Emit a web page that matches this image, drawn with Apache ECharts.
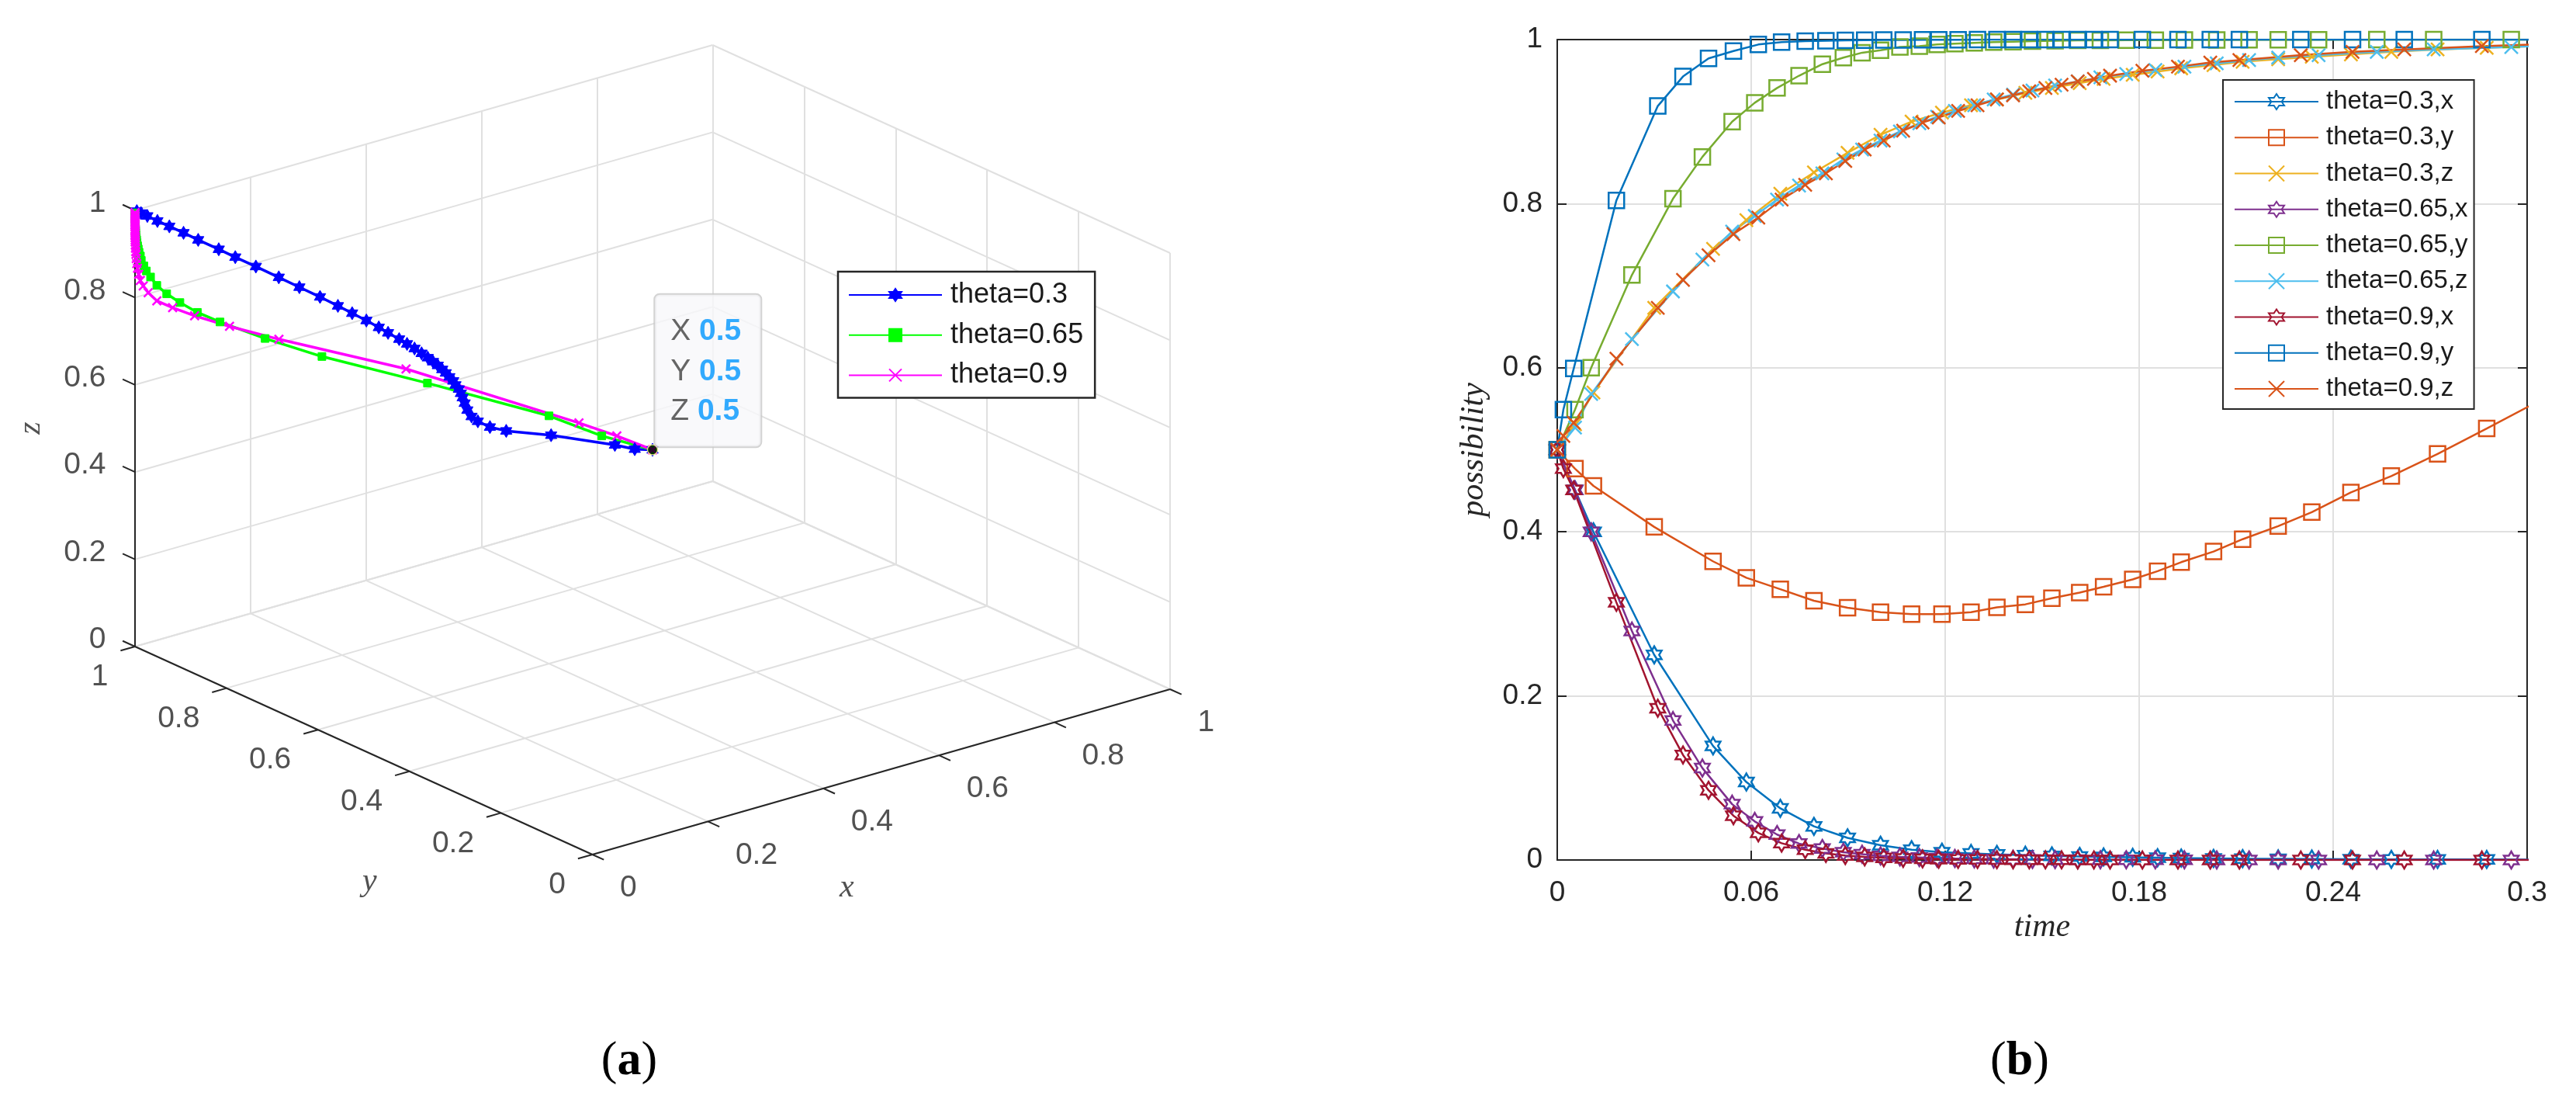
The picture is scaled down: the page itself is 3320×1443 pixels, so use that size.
<!DOCTYPE html>
<html>
<head>
<meta charset="utf-8">
<title>theta trajectories</title>
<script src="https://cdn.jsdelivr.net/npm/echarts@6/dist/echarts.min.js"></script>
<style>
  html, body { margin: 0; padding: 0; background: #fff; }
  #chart { width: 3320px; height: 1443px; }
</style>
</head>
<body>
<div id="chart"></div>
<script>
// ---- data ----
var ticks3d = [0, 0.2, 0.4, 0.6, 0.8, 1];
var timeTicks = { min: 0, max: 0.3, step: 0.06 };
var possTicks = { min: 0, max: 1, step: 0.2 };

var names3d = ["theta=0.3", "theta=0.65", "theta=0.9"];
var names2d = ["theta=0.3,x", "theta=0.3,y", "theta=0.3,z",
               "theta=0.65,x", "theta=0.65,y", "theta=0.65,z",
               "theta=0.9,x", "theta=0.9,y", "theta=0.9,z"];

// theta = 0.3 (solver steps, run past t = 0.3)
var t03 = [0, 0.0055, 0.0112, 0.0300, 0.0482, 0.0585, 0.0690, 0.0794, 0.0898, 0.1000,
           0.1096, 0.1190, 0.1280, 0.1360, 0.1448, 0.1530, 0.1616, 0.1690, 0.1780, 0.1857,
           0.1930, 0.2030, 0.2120, 0.2230, 0.2334, 0.2455, 0.2580, 0.2723, 0.2875, 0.3025,
           0.3170, 0.3320, 0.3470, 0.3620, 0.3780, 0.3940, 0.4120, 0.4320, 0.4540, 0.4800,
           0.5100, 0.5450, 0.5900];
var x03 = [0.500, 0.451, 0.400, 0.250, 0.139, 0.095, 0.063, 0.041, 0.027, 0.018,
           0.0126, 0.0095, 0.0080, 0.0068, 0.0058, 0.0050, 0.0043, 0.0037, 0.0032, 0.0028,
           0.0024, 0.0020, 0.0017, 0.0014, 0.0012, 0.0010, 0.0008, 0.0007, 0.0006, 0.0005,
           0.0004, 0.0003, 0.0003, 0.0002, 0.0002, 0.0001, 0.0001, 0.0001, 0.0001, 0,
           0, 0, 0];
var y03 = [0.500, 0.477, 0.456, 0.406, 0.364, 0.344, 0.330, 0.316, 0.3075, 0.302,
           0.2996, 0.2996, 0.302, 0.308, 0.3116, 0.319, 0.326, 0.333, 0.342, 0.352,
           0.363, 0.376, 0.391, 0.407, 0.424, 0.448, 0.468, 0.495, 0.526, 0.557,
           0.596, 0.641, 0.686, 0.736, 0.781, 0.817, 0.862, 0.894, 0.925, 0.951,
           0.973, 0.987, 0.996];
var z03 = [0.500, 0.531, 0.570, 0.673, 0.745, 0.780, 0.812, 0.838, 0.862, 0.884,
           0.900, 0.911, 0.920, 0.927, 0.935, 0.941, 0.947, 0.952, 0.957, 0.961,
           0.965, 0.969, 0.973, 0.976, 0.979, 0.982, 0.985, 0.988, 0.990, 0.992,
           0.994, 0.995, 0.996, 0.997, 0.997, 0.998, 0.998, 0.999, 0.999, 0.999,
           1.000, 1.000, 1.000];

// theta = 0.65
var t065 = [0, 0.0055, 0.0105, 0.0231, 0.0358, 0.0449, 0.0541, 0.0611, 0.0680, 0.0748,
            0.0820, 0.0885, 0.0943, 0.1000, 0.1060, 0.1120, 0.1175, 0.1230, 0.1290, 0.1350,
            0.1410, 0.1470, 0.1540, 0.1610, 0.1680, 0.1760, 0.1850, 0.1940, 0.2040, 0.2140,
            0.2230, 0.2355, 0.2535, 0.2711, 0.2951, 0.3200];
var x065 = [0.500, 0.451, 0.400, 0.279, 0.170, 0.112, 0.068, 0.047, 0.031, 0.020,
            0.014, 0.0095, 0.0070, 0.0050, 0.0038, 0.0030, 0.0023, 0.0018, 0.0014, 0.0011,
            0.0009, 0.0007, 0.0005, 0.0004, 0.0003, 0.0003, 0.0002, 0.0002, 0.0001, 0.0001,
            0.0001, 0, 0, 0, 0, 0];
var y065 = [0.500, 0.549, 0.600, 0.713, 0.806, 0.857, 0.900, 0.923, 0.941, 0.956,
            0.970, 0.978, 0.984, 0.987, 0.991, 0.992, 0.994, 0.995, 0.996, 0.997,
            0.9975, 0.998, 0.9985, 0.999, 0.999, 0.9992, 0.9994, 0.9995, 0.9996, 0.9997,
            0.9998, 0.9998, 0.9999, 0.9999, 0.9999, 1.000];
var z065 = [0.500, 0.527, 0.568, 0.635, 0.693, 0.732, 0.766, 0.785, 0.805, 0.822,
            0.837, 0.854, 0.866, 0.877, 0.888, 0.898, 0.906, 0.913, 0.920, 0.927,
            0.933, 0.938, 0.944, 0.949, 0.954, 0.958, 0.963, 0.967, 0.971, 0.975,
            0.978, 0.981, 0.985, 0.988, 0.991, 0.994];

// theta = 0.9
var t09 = [0, 0.0019, 0.0051, 0.0183, 0.0311, 0.0389, 0.0468, 0.0545, 0.0622, 0.0694,
           0.0767, 0.0831, 0.0891, 0.0951, 0.1010, 0.1070, 0.1130, 0.1180, 0.1240, 0.1300,
           0.1360, 0.1410, 0.1460, 0.1510, 0.1560, 0.1610, 0.1660, 0.1710, 0.1810, 0.1920,
           0.2020, 0.2110, 0.2300, 0.2460, 0.2620, 0.2860, 0.3100];
var x09 = [0.500, 0.477, 0.451, 0.314, 0.185, 0.128, 0.085, 0.054, 0.033, 0.0205,
           0.0126, 0.0080, 0.0055, 0.0038, 0.0027, 0.0019, 0.0014, 0.0010, 0.0008, 0.0006,
           0.0004, 0.0003, 0.0003, 0.0002, 0.0002, 0.0001, 0.0001, 0.0001, 0, 0,
           0, 0, 0, 0, 0, 0, 0];
var y09 = [0.500, 0.549, 0.599, 0.804, 0.919, 0.955, 0.977, 0.986, 0.994, 0.997,
           0.998, 0.9985, 0.999, 0.9993, 0.9995, 0.9996, 0.9997, 0.9998, 0.9998, 0.9999,
           0.9999, 0.9999, 0.9999, 0.9999, 0.9999, 0.9999, 0.9999, 0.9999, 0.9999, 0.9999,
           0.9999, 0.9999, 0.9999, 0.9999, 0.9999, 0.9999, 1.000];
var z09 = [0.500, 0.517, 0.533, 0.611, 0.673, 0.707, 0.737, 0.763, 0.783, 0.805,
           0.823, 0.837, 0.852, 0.866, 0.877, 0.889, 0.899, 0.905, 0.913, 0.920,
           0.927, 0.932, 0.937, 0.941, 0.945, 0.949, 0.952, 0.956, 0.962, 0.967,
           0.972, 0.975, 0.981, 0.985, 0.988, 0.992, 0.995];

// ---- styling ----
var SANS = "'Liberation Sans', Arial, sans-serif";
var SERIF = "'Liberation Serif', 'Times New Roman', serif";
var INK = "#262626";
var GRIDC = "#e0e0e0";

// screen placement of the 3D box (panel a): origin corner and unit vectors
var view = { o: [763.5, 1101], ex: [744.5, -213], ey: [-589.5, -268], ez: [0, -562] };

function proj(x, y, z) {
  return [
    view.o[0] + x * view.ex[0] + y * view.ey[0] + z * view.ez[0],
    view.o[1] + x * view.ex[1] + y * view.ey[1] + z * view.ez[1]
  ];
}

function hexagram() {
  var d = "";
  for (var i = 0; i < 12; i++) {
    var r = i % 2 ? 0.5774 : 1;
    var a = -Math.PI / 2 + i * Math.PI / 6;
    d += (i ? "L" : "M") + (r * Math.cos(a)).toFixed(4) + " " + (r * Math.sin(a)).toFixed(4);
  }
  return "path://" + d + "Z";
}
var HEX = hexagram();
var SQUARE = "path://M0 0H10V10H0Z";
var CROSS = "path://M0 0L10 10M10 0L0 10";

// ---- panel (a): 3D box drawn on a pixel-space grid ----
function seg(a, b) {
  return { coords: [proj(a[0], a[1], a[2]), proj(b[0], b[1], b[2])] };
}

var gridSegs = [];
ticks3d.forEach(function (s) {
  gridSegs.push(seg([s, 0, 0], [s, 1, 0]));
  gridSegs.push(seg([0, s, 0], [1, s, 0]));
  gridSegs.push(seg([s, 1, 0], [s, 1, 1]));
  gridSegs.push(seg([0, 1, s], [1, 1, s]));
  gridSegs.push(seg([1, s, 0], [1, s, 1]));
  gridSegs.push(seg([1, 0, s], [1, 1, s]));
});

var axisSegs = [seg([0, 1, 0], [0, 1, 1]), seg([0, 0, 0], [0, 1, 0]), seg([0, 0, 0], [1, 0, 0])];
ticks3d.forEach(function (s) {
  axisSegs.push(seg([0, 1, s], [0, 1.027, s]));
  axisSegs.push(seg([s, 0, 0], [s, -0.025, 0]));
  axisSegs.push(seg([0, s, 0], [-0.025, s, 0]));
});

function tickLabels(pointOf, pos, align) {
  return {
    type: "scatter", xAxisIndex: 2, yAxisIndex: 2, symbolSize: 1, silent: true, z: 4,
    itemStyle: { color: "rgba(0,0,0,0)" },
    label: {
      show: true, position: pos, align: align, verticalAlign: "middle",
      fontFamily: SANS, fontSize: 39, color: INK,
      formatter: function (p) { return String(p.value[2]); }
    },
    data: ticks3d.map(function (s) { var p = pointOf(s); return [p[0], p[1], s]; })
  };
}

function axisTitle(text, at, pos, rotate) {
  var p = proj(at[0], at[1], at[2]);
  return {
    type: "scatter", xAxisIndex: 2, yAxisIndex: 2, symbolSize: 1, silent: true, z: 4,
    itemStyle: { color: "rgba(0,0,0,0)" },
    label: {
      show: true, position: pos, align: "center", verticalAlign: "middle", rotate: rotate || 0,
      fontFamily: SERIF, fontStyle: "italic", fontSize: 42, color: INK,
      formatter: function () { return text; }
    },
    data: [[p[0], p[1]]]
  };
}

function path3d(xs, ys, zs) {
  return xs.map(function (x, i) { return proj(x, ys[i], zs[i]); });
}

function curve3d(name, xs, ys, zs, color, symbol, size, filled) {
  return {
    name: name, type: "line", xAxisIndex: 2, yAxisIndex: 2, z: 3, clip: false,
    data: path3d(xs, ys, zs),
    symbol: symbol, symbolSize: size, symbolKeepAspect: true, showSymbol: true,
    lineStyle: { color: color, width: 3.5 },
    itemStyle: filled ? { color: color, borderColor: color, borderWidth: 1 }
                      : { color: "rgba(0,0,0,0)", borderColor: color, borderWidth: 2.5 },
    emphasis: { disabled: true }
  };
}

var start = proj(x03[0], y03[0], z03[0]);

var series = [
  { type: "lines", coordinateSystem: "cartesian2d", xAxisIndex: 2, yAxisIndex: 2, z: 1, silent: true,
    lineStyle: { color: GRIDC, width: 2, opacity: 1 }, data: gridSegs },
  { type: "lines", coordinateSystem: "cartesian2d", xAxisIndex: 2, yAxisIndex: 2, z: 2, silent: true,
    lineStyle: { color: INK, width: 2, opacity: 1 }, data: axisSegs },
  tickLabels(function (s) { return proj(0, 1, s); }, [-37, -8], "right"),
  tickLabels(function (s) { return proj(s, 0, 0); }, [36, 44], "left"),
  tickLabels(function (s) { return proj(0, s, 0); }, [-34, 40], "right"),
  axisTitle("x", [0.5, 0, 0], [-44, 150]),
  axisTitle("y", [0, 0.5, 0], [8, 169]),
  axisTitle("z", [0, 1, 0.5], [-134, 0], 90),
  curve3d(names3d[0], x03, y03, z03, "#0000ff", HEX, 17, true),
  curve3d(names3d[1], x065, y065, z065, "#00ff00", "rect", 10, true),
  curve3d(names3d[2], x09, y09, z09, "#ff00ff", CROSS, 11, false),
  {
    type: "scatter", xAxisIndex: 2, yAxisIndex: 2, z: 6, silent: true,
    symbolSize: 13, itemStyle: { color: "#000", borderColor: "#ffff88", borderWidth: 1.5 },
    data: [[start[0], start[1]]],
    label: {
      show: true, position: [10.5, -192.5], align: "left", verticalAlign: "top",
      backgroundColor: "#f8f8fa", borderColor: "#c8c8c8", borderWidth: 2, borderRadius: 6,
      padding: [22, 25, 19, 20], fontFamily: SANS, fontSize: 39, lineHeight: 51.5,
      formatter: function () {
        return "{k|X} {v|" + x03[0] + "}\n{k|Y} {v|" + y03[0] + "}\n{k|Z} {v|" + z03[0] + "}";
      },
      rich: {
        k: { fontFamily: SANS, fontSize: 39, lineHeight: 51.5, color: "#404040" },
        v: { fontFamily: SANS, fontSize: 39, lineHeight: 51.5, color: "#0096ff", fontWeight: "bold" }
      }
    }
  }
];

// ---- panel (b): time series ----
function timeSeries(name, ts, vs, color, symbol, size) {
  return {
    name: name, type: "line", xAxisIndex: 0, yAxisIndex: 0, z: 3, clip: true,
    data: ts.map(function (t, i) { return [t, vs[i]]; }),
    symbol: symbol, symbolSize: size, symbolKeepAspect: true, showSymbol: true,
    lineStyle: { color: color, width: 2.5 },
    itemStyle: { color: "rgba(0,0,0,0)", borderColor: color, borderWidth: 2.5 },
    emphasis: { disabled: true }
  };
}

series.push(
  timeSeries(names2d[0], t03, x03, "#0072bd", HEX, 22),
  timeSeries(names2d[1], t03, y03, "#d95319", SQUARE, 20),
  timeSeries(names2d[2], t03, z03, "#edb120", CROSS, 17),
  timeSeries(names2d[3], t065, x065, "#7e2f8e", HEX, 22),
  timeSeries(names2d[4], t065, y065, "#77ac30", SQUARE, 20),
  timeSeries(names2d[5], t065, z065, "#4dbeee", CROSS, 17),
  timeSeries(names2d[6], t09, x09, "#a2142f", HEX, 22),
  timeSeries(names2d[7], t09, y09, "#0072bd", SQUARE, 20),
  timeSeries(names2d[8], t09, z09, "#d95319", CROSS, 17)
);

var axisLineStyle = { show: true, onZero: false, lineStyle: { color: INK, width: 2 } };
var tickStyle = { show: true, inside: true, length: 12, lineStyle: { color: INK, width: 2 } };
var labelStyle = { fontFamily: SANS, fontSize: 37, color: INK, showMinLabel: true, showMaxLabel: true };
var nameStyle = { fontFamily: SERIF, fontStyle: "italic", fontSize: 42, color: INK };

var chart = echarts.init(document.getElementById("chart"), null, { renderer: "canvas" });

chart.setOption({
  animation: false,
  backgroundColor: "#fff",
  textStyle: { fontFamily: SANS },
  grid: [
    { left: 2007, top: 51, width: 1250, height: 1057, containLabel: false },
    { left: 0, top: 0, width: 1660, height: 1443, containLabel: false }
  ],
  xAxis: [
    { gridIndex: 0, type: "value", position: "bottom",
      min: timeTicks.min, max: timeTicks.max, interval: timeTicks.step,
      axisLine: axisLineStyle, axisTick: tickStyle,
      axisLabel: Object.assign({ margin: 24 }, labelStyle),
      splitLine: { show: true, lineStyle: { color: GRIDC, width: 2 } },
      name: "time", nameLocation: "middle", nameGap: 66, nameTextStyle: nameStyle },
    { gridIndex: 0, type: "value", position: "top",
      min: timeTicks.min, max: timeTicks.max, interval: timeTicks.step,
      axisLine: axisLineStyle, axisTick: tickStyle,
      axisLabel: { show: false }, splitLine: { show: false } },
    { gridIndex: 1, type: "value", min: 0, max: 1660, show: false }
  ],
  yAxis: [
    { gridIndex: 0, type: "value", position: "left",
      min: possTicks.min, max: possTicks.max, interval: possTicks.step,
      axisLine: axisLineStyle, axisTick: tickStyle,
      axisLabel: Object.assign({ margin: 19 }, labelStyle),
      splitLine: { show: true, lineStyle: { color: GRIDC, width: 2 } },
      name: "possibility", nameLocation: "middle", nameGap: 86, nameTextStyle: nameStyle },
    { gridIndex: 0, type: "value", position: "right",
      min: possTicks.min, max: possTicks.max, interval: possTicks.step,
      axisLine: axisLineStyle, axisTick: tickStyle,
      axisLabel: { show: false }, splitLine: { show: false } },
    { gridIndex: 1, type: "value", min: 0, max: 1443, inverse: true, show: false }
  ],
  legend: [
    { data: names3d, orient: "vertical", left: 1080, top: 350, selectedMode: false,
      padding: [10, 15, 9, 13], itemWidth: 120, itemHeight: 20, itemGap: 11.7,
      backgroundColor: "#fff", borderColor: INK, borderWidth: 2.5,
      textStyle: { fontFamily: SANS, fontSize: 36, lineHeight: 40, color: "#1a1a1a", padding: [0, 0, 0, 6] } },
    { data: names2d, orient: "vertical", left: 2865, top: 103, selectedMode: false,
      padding: [10, 8, 8, 14], itemWidth: 108, itemHeight: 25, itemGap: 10.25,
      backgroundColor: "#fff", borderColor: INK, borderWidth: 2,
      textStyle: { fontFamily: SANS, fontSize: 33, lineHeight: 36, color: "#1a1a1a", padding: [0, 0, 0, 5] } }
  ],
  graphic: [
    { type: "text", x: 811, y: 1368, silent: true,
      style: { text: "{p|(}{b|a}{p|)}", align: "center", verticalAlign: "middle",
        rich: { p: { fontFamily: SERIF, fontSize: 62, fill: "#000" },
                b: { fontFamily: SERIF, fontSize: 62, fontWeight: "bold", fill: "#000" } } } },
    { type: "text", x: 2603, y: 1368, silent: true,
      style: { text: "{p|(}{b|b}{p|)}", align: "center", verticalAlign: "middle",
        rich: { p: { fontFamily: SERIF, fontSize: 62, fill: "#000" },
                b: { fontFamily: SERIF, fontSize: 62, fontWeight: "bold", fill: "#000" } } } }
  ],
  series: series
});

window.addEventListener("resize", function () {
  chart.resize();
});
</script>
</body>
</html>
